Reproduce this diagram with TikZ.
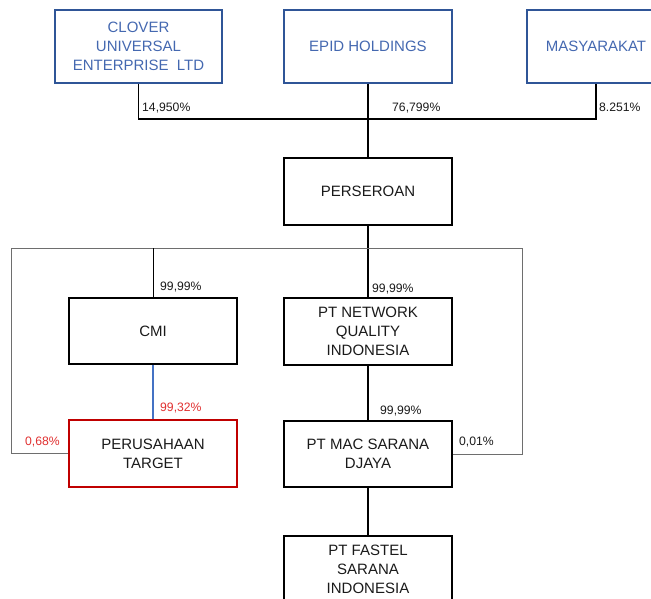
\documentclass[tikz,border=0pt]{standalone}
\usepackage{fontspec}
\setmainfont{Liberation Sans}
\definecolor{topblue}{HTML}{2F5597}
\definecolor{toptext}{HTML}{4468B0}
\definecolor{tred}{HTML}{C00000}
\definecolor{lred}{HTML}{E03030}
\definecolor{lgrey}{HTML}{6E6E6E}
\definecolor{lblue}{HTML}{4472C4}
\definecolor{txt}{HTML}{1A1A1A}
\begin{document}
\begin{tikzpicture}[x=1pt,y=-1pt,
  box/.style={draw=black, line width=1.6pt, minimum width=168pt, minimum height=67pt,
    align=center, inner sep=0pt, text=txt,
    font=\fontsize{15}{18.8}\selectfont},
  topbox/.style={box, draw=topblue, text=toptext, minimum height=73pt},
  conn/.style={line width=1.8pt, black},
  gline/.style={line width=0.9pt, lgrey},
  pct/.style={anchor=base west, inner sep=0pt, text=txt, font=\fontsize{12.2}{13}\selectfont},
  rpct/.style={pct, text=lred}]
\useasboundingbox (0,0) rectangle (651,599);
\clip (0,0) rectangle (651,599);
% top row
\node[topbox, minimum width=167pt] (clover) at (138.5,46.5) {CLOVER\\UNIVERSAL\\ENTERPRISE\ \ LTD};
\node[topbox] (epid) at (368,46.5) {EPID HOLDINGS};
\node[topbox, minimum width=138pt] (masy) at (596,46.5) {MASYARAKAT};
\node[box] (pers) at (368,191.5) {PERSEROAN};
\node[box, minimum height=66pt] (cmi) at (153,331) {CMI};
\node[box] (nqi) at (368,331.5) {PT NETWORK\\QUALITY\\INDONESIA};
\node[box, draw=tred] (target) at (153,453.5) {PERUSAHAAN\\TARGET};
\node[box, minimum height=66pt] (mac) at (368,454) {PT MAC SARANA\\DJAYA};
\node[box] (fastel) at (368,569.5) {PT FASTEL\\SARANA\\INDONESIA};
% connectors
\coordinate (bar) at (368,119);
\coordinate (gtl) at (11,248);
\coordinate (gtr) at (522,248);
\draw[conn] (clover.south) |- (bar) -| (masy.south);
\draw[conn] (epid.south) -- (pers.north);
\draw[conn] (pers.south) -- (nqi.north);
\draw[gline] (target.west) -| (gtl) -- (gtr) |- (mac.east);
\draw[line width=0.9pt, black] (cmi.north) -- (cmi.north |- gtl);
\draw[line width=1.2pt, lblue] (cmi.south) -- (target.north);
\draw[conn] (nqi.south) -- (mac.north);
\draw[conn] (mac.south) -- (fastel.north);
% labels
\node[pct] (l1) at (142,112) {14,950\%};
\node[pct] (l2) at (392,112) {76,799\%};
\node[pct] (l3) at (599,112) {8.251\%};
\node[pct] (l4) at (160,290) {99,99\%};
\node[pct] (l5) at (372,292) {99,99\%};
\node[rpct] (l6) at (160,411) {99,32\%};
\node[pct] (l7) at (380,414) {99,99\%};
\node[rpct] (l8) at (25,445) {0,68\%};
\node[pct] (l9) at (459,445) {0,01\%};
\end{tikzpicture}
\end{document}
